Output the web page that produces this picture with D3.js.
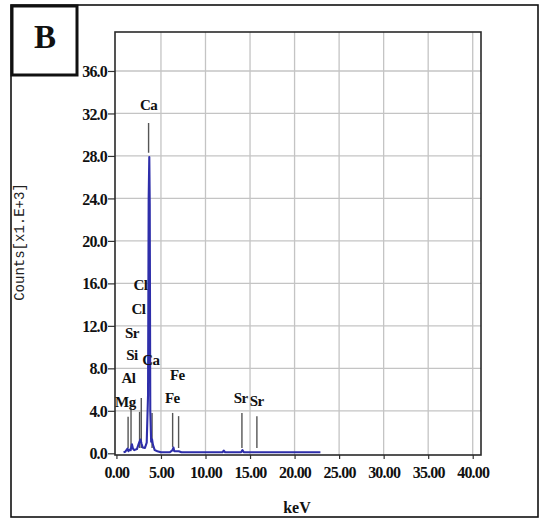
<!DOCTYPE html>
<html>
  <head>
    <title>EDS spectrum B</title>
    <script src="https://d3js.org/d3.v7.min.js"></script>
    <style>
      body { margin: 0; background: #fff; }
      .tick text {
        font-family: "Liberation Serif", serif;
        font-weight: bold;
        font-size: 16px;
        letter-spacing: -0.8px;
        fill: #111;
      }
      .peak-label {
        font-family: "Liberation Serif", serif;
        font-weight: bold;
        font-size: 15px;
        letter-spacing: -0.6px;
        fill: #111;
      }
    </style>
  </head>
  <body>
    <svg width="540" height="520"></svg>
    <script>
      // spectrum (keV, counts x1000)
      const energy = [0.8, 1.0, 1.25, 1.35, 1.5, 1.6, 1.74, 1.85, 2.0, 2.3, 2.55, 2.7, 2.82, 2.95, 3.2, 3.4, 3.55, 3.62, 3.69, 3.74, 3.8, 3.9, 4.0, 4.1, 4.3, 4.6, 5.0, 6.0, 6.3, 6.4, 6.5, 7.0, 7.3, 11.9, 12.05, 12.2, 14.0, 14.15, 14.3, 22.9];
      const counts = [0.1, 0.15, 0.45, 0.2, 0.35, 0.3, 0.85, 0.45, 0.3, 0.4, 1.0, 1.3, 0.9, 0.55, 0.5, 1.0, 5.5, 24.0, 27.9, 23.5, 4.0, 1.1, 1.3, 0.8, 0.3, 0.2, 0.1, 0.1, 0.3, 0.55, 0.2, 0.2, 0.1, 0.1, 0.25, 0.1, 0.1, 0.3, 0.1, 0.1];

      // element marker lines
      const markerKeV = [1.31, 1.64, 2.6, 2.79, 3.61, 4.0, 6.31, 6.98, 14.09, 15.77];
      const markerTop = [3.45, 4.3, 3.9, 5.2, 31.1, 3.8, 3.8, 3.5, 3.8, 3.5];
      const markerBottom = [0.5, 0.5, 0.5, 0.5, 28.3, 0.5, 0.6, 0.5, 0.5, 0.5];

      // element labels
      const labelText = ["Ca", "Cl", "Cl", "Sr", "Si", "Ca", "Al", "Mg", "Fe", "Fe", "Sr", "Sr"];
      const labelKeV = [3.6, 2.7, 2.47, 1.74, 1.74, 3.86, 1.35, 1.0, 6.84, 6.28, 13.96, 15.75];
      const labelCounts = [32.3, 15.4, 13.1, 10.9, 8.8, 8.3, 6.6, 4.4, 6.9, 4.7, 4.7, 4.5];

      const yTicks = [0, 4, 8, 12, 16, 20, 24, 28, 32, 36];
      const xTicks = [0, 5, 10, 15, 20, 25, 30, 35, 40];

      const plotLeft = 115, plotRight = 481, plotTop = 32, plotBottom = 455;

      const svg = d3.select("svg");

      const x = d3.scaleLinear().domain([-0.16, 40.93]).range([plotLeft, plotRight]);
      const y = d3.scaleLinear().domain([-0.16, 39.67]).range([plotBottom, plotTop]);

      // outer frame
      svg.append("rect")
        .attr("x", 11).attr("y", 5)
        .attr("width", 527).attr("height", 512)
        .attr("fill", "none").attr("stroke", "#111").attr("stroke-width", 1.6);

      // gridlines
      svg.append("g").selectAll("line")
        .data(xTicks.filter(d => d > 0))
        .join("line")
          .attr("x1", d => x(d)).attr("x2", d => x(d))
          .attr("y1", plotTop).attr("y2", plotBottom)
          .attr("stroke", "#c4c4c4").attr("stroke-width", 1.3);
      svg.append("g").selectAll("line")
        .data(yTicks.filter(d => d > 0))
        .join("line")
          .attr("x1", plotLeft).attr("x2", plotRight)
          .attr("y1", d => y(d)).attr("y2", d => y(d))
          .attr("stroke", "#c4c4c4").attr("stroke-width", 1.3);

      // axes
      svg.append("g")
        .attr("transform", `translate(${plotLeft},0)`)
        .call(d3.axisLeft(y).tickValues(yTicks).tickFormat(d3.format(".1f")).tickSize(7).tickPadding(1))
        .call(g => g.select(".domain").remove())
        .call(g => g.selectAll(".tick line").attr("stroke", "#333").attr("stroke-width", 1.2))
        .call(g => g.selectAll(".tick text").attr("dy", "0.35em"));

      svg.append("g")
        .attr("transform", `translate(0,${plotBottom})`)
        .call(d3.axisBottom(x).tickValues(xTicks).tickFormat(d3.format(".2f")).tickSize(4).tickPadding(8))
        .call(g => g.select(".domain").remove())
        .call(g => g.selectAll(".tick line").attr("stroke", "#333").attr("stroke-width", 1.2));

      // plot border
      svg.append("rect")
        .attr("x", plotLeft).attr("y", plotTop)
        .attr("width", plotRight - plotLeft).attr("height", plotBottom - plotTop)
        .attr("fill", "none").attr("stroke", "#2a2a2a").attr("stroke-width", 1.6);

      // marker lines
      svg.append("g").selectAll("line")
        .data(markerKeV)
        .join("line")
          .attr("x1", d => x(d)).attr("x2", d => x(d))
          .attr("y1", (d, i) => y(markerTop[i]))
          .attr("y2", (d, i) => y(markerBottom[i]))
          .attr("stroke", "#555").attr("stroke-width", 1.4);

      // spectrum
      const line = d3.line()
        .x(d => x(d[0]))
        .y(d => y(d[1]));
      svg.append("path")
        .datum(d3.zip(energy, counts))
        .attr("d", line)
        .attr("fill", "none")
        .attr("stroke", "#2e2eaa")
        .attr("stroke-width", 2.1)
        .attr("stroke-linejoin", "round");

      // peak labels
      svg.append("g").selectAll("text")
        .data(labelText)
        .join("text")
          .attr("class", "peak-label")
          .attr("x", (d, i) => x(labelKeV[i]))
          .attr("y", (d, i) => y(labelCounts[i]))
          .attr("text-anchor", "middle")
          .text(d => d);

      // axis titles
      svg.append("text")
        .attr("transform", "translate(24,242) rotate(-90)")
        .attr("text-anchor", "middle")
        .attr("font-family", "Liberation Mono, monospace")
        .attr("font-size", 14)
        .attr("fill", "#222")
        .text("Counts[x1.E+3]");

      svg.append("text")
        .attr("x", 297).attr("y", 513)
        .attr("text-anchor", "middle")
        .attr("font-family", "Liberation Serif, serif")
        .attr("font-weight", "bold")
        .attr("font-size", 16)
        .attr("fill", "#111")
        .text("keV");

      // panel letter box
      svg.append("rect")
        .attr("x", 12).attr("y", 6)
        .attr("width", 65).attr("height", 69)
        .attr("fill", "#fff").attr("stroke", "#111").attr("stroke-width", 3);
      svg.append("text")
        .attr("x", 45).attr("y", 48)
        .attr("text-anchor", "middle")
        .attr("font-family", "Liberation Serif, serif")
        .attr("font-weight", "bold")
        .attr("font-size", 33)
        .attr("fill", "#111")
        .text("B");
    </script>
  </body>
</html>
